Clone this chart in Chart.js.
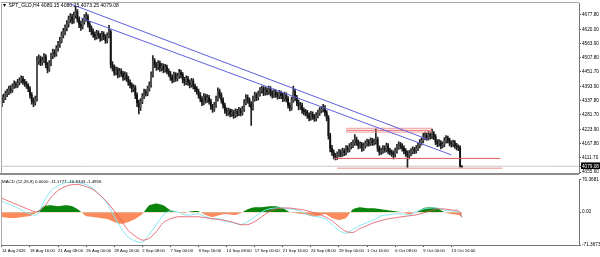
<!DOCTYPE html>
<html><head><meta charset="utf-8">
<script src="https://cdn.jsdelivr.net/npm/chart.js@4.4.1/dist/chart.umd.min.js"></script>
<style>
html,body{margin:0;padding:0;background:#fff;}
#wrap{position:relative;width:600px;height:257px;overflow:hidden;background:#fff;}
canvas{position:absolute;left:0;}
#c1{top:0;}
#c2{top:176px;}
.lbl{position:absolute;font-family:"Liberation Sans",Arial,sans-serif;color:#000;transform:scale(0.5);transform-origin:0 0;white-space:nowrap;}
</style></head><body>
<div id="wrap">
<canvas id="c1" width="600" height="177"></canvas>
<canvas id="c2" width="600" height="81"></canvas>
<div class="lbl" id="t1" style="left:2px;top:2px;font-size:10.2px"></div>
<div class="lbl" id="t2" style="left:2px;top:179px;font-size:8.8px"></div>
</div>
<script>
// ---------- DATA ----------
const symbolLabel = "▼ SPT_GLD,H4 4080.15 4080.25 4073.25 4079.08";
const macdLabel = "MACD (12,26,9) 0.0000 -11.1777 -10.8343 -1.4956";

const opens = [
4348,4340,4352,4365,4372,4385,4380,4395,4402,4398,
4410,4418,4425,4412,4405,4398,4385,4360,4338,4330,
4345,4492,4505,4488,4498,4512,4480,4462,4485,4515,
4530,4522,4545,4560,4575,4598,4610,4625,4640,4660,
4668,4655,4675,4690,4660,4640,4630,4650,4665,4670,
4640,4625,4610,4600,4590,4605,4595,4585,4600,4590,
4575,4595,4610,4480,4470,4450,4460,4440,4455,4445,
4430,4440,4425,4410,4400,4385,4390,4360,4330,4310,
4335,4355,4372,4368,4385,4400,4440,4495,4480,4470,
4485,4465,4475,4460,4470,4455,4445,4430,4420,4440,
4425,4435,4450,4440,4420,4410,4425,4410,4400,4415,
4395,4385,4375,4360,4345,4330,4355,4340,4350,4335,
4315,4305,4320,4345,4375,4360,4340,4320,4300,4290,
4298,4285,4292,4280,4295,4288,4300,4290,4305,4330,
4350,4340,4325,4310,4345,4360,4350,4365,4378,4385,
4370,4380,4372,4385,4368,4360,4372,4362,4355,4368,
4358,4345,4360,4345,4320,4310,4340,4375,4350,4330,
4315,4320,4300,4295,4290,4280,4270,4285,4275,4268,
4280,4290,4300,4305,4310,4290,4270,4200,4150,4135,
4120,4115,4125,4135,4128,4140,4132,4150,4145,4158,
4162,4170,4185,4172,4160,4165,4150,4160,4168,4175,
4170,4180,4172,4175,4185,4150,4135,4140,4150,4145,
4160,4140,4135,4130,4125,4140,4155,4165,4160,4150,
4140,4130,4120,4130,4138,4145,4140,4150,4160,4172,
4180,4195,4200,4192,4205,4198,4208,4195,4175,4168,
4172,4160,4165,4180,4190,4182,4170,4165,4172,4160,
4155,4152,4080.15];
const highs = [
4360,4364,4376,4384,4396,4398,4405,4416,4412,4422,
4428,4436,4434,4422,4414,4406,4394,4370,4349,4356,
4512,4519,4514,4510,4524,4520,4490,4496,4526,4542,
4540,4556,4572,4588,4610,4624,4638,4654,4672,4682,
4679,4688,4710,4698,4669,4652,4662,4678,4686,4678,
4650,4634,4622,4610,4616,4614,4604,4612,4610,4599,
4606,4636,4618,4492,4480,4472,4469,4466,4464,4454,
4452,4449,4434,4420,4409,4402,4398,4369,4340,4346,
4366,4384,4382,4396,4412,4452,4516,4504,4490,4496,
4494,4486,4484,4482,4479,4464,4454,4440,4451,4449,
4446,4462,4459,4449,4430,4436,4434,4420,4426,4424,
4404,4394,4384,4370,4354,4366,4364,4362,4359,4344,
4324,4332,4356,4389,4384,4369,4349,4329,4310,4309,
4306,4304,4300,4306,4304,4312,4309,4316,4342,4362,
4360,4349,4334,4356,4372,4369,4376,4390,4396,4394,
4392,4389,4396,4394,4378,4384,4381,4372,4379,4376,
4367,4372,4369,4354,4330,4352,4396,4384,4359,4340,
4332,4329,4310,4304,4300,4290,4296,4294,4284,4291,
4301,4311,4316,4324,4319,4299,4279,4209,4162,4144,
4130,4136,4146,4144,4151,4149,4161,4160,4169,4174,
4182,4204,4194,4182,4176,4174,4171,4179,4186,4184,
4191,4189,4186,4226,4194,4160,4151,4161,4160,4171,
4169,4150,4144,4140,4151,4166,4176,4174,4169,4160,
4149,4140,4141,4149,4156,4154,4161,4171,4184,4191,
4209,4214,4210,4218,4214,4226,4216,4204,4184,4184,
4180,4176,4192,4200,4198,4190,4179,4182,4180,4170,
4164,4160,4080.25];
const lows = [
4314,4330,4342,4354,4362,4368,4371,4386,4388,4390,
4400,4408,4402,4394,4386,4374,4348,4324,4314,4320,
4336,4481,4476,4478,4488,4468,4448,4454,4476,4504,
4510,4514,4534,4548,4566,4586,4598,4614,4628,4646,
4641,4644,4664,4648,4626,4616,4621,4640,4652,4628,
4611,4598,4588,4578,4581,4584,4572,4576,4579,4564,
4566,4586,4466,4456,4438,4440,4428,4431,4434,4418,
4420,4414,4398,4388,4372,4374,4346,4314,4286,4300,
4326,4346,4356,4358,4376,4391,4431,4468,4458,4461,
4454,4456,4448,4451,4444,4434,4418,4408,4411,4414,
4416,4426,4428,4408,4398,4401,4398,4388,4391,4384,
4374,4364,4348,4334,4318,4321,4328,4331,4324,4304,
4292,4296,4311,4336,4348,4328,4308,4288,4278,4280,
4274,4276,4268,4271,4276,4279,4278,4281,4296,4321,
4328,4314,4240,4301,4336,4338,4341,4356,4368,4358,
4360,4361,4363,4356,4348,4351,4351,4344,4346,4346,
4334,4336,4333,4308,4298,4301,4331,4338,4318,4302,
4304,4288,4282,4278,4268,4258,4261,4264,4256,4258,
4270,4280,4290,4294,4278,4258,4186,4136,4122,4108,
4104,4106,4116,4116,4118,4121,4124,4134,4136,4148,
4152,4161,4161,4148,4150,4138,4141,4150,4158,4158,
4161,4161,4162,4166,4138,4123,4126,4130,4134,4136,
4128,4124,4118,4108,4116,4131,4146,4148,4139,4128,
4118,4072,4108,4120,4128,4129,4131,4141,4151,4162,
4171,4184,4181,4183,4186,4188,4184,4164,4156,4158,
4148,4151,4156,4170,4171,4159,4154,4156,4149,4144,
4141,4074,4073.25];
const closes = [
4340,4352,4365,4372,4385,4380,4395,4402,4398,4410,
4418,4425,4412,4405,4398,4385,4360,4338,4330,4345,
4492,4505,4488,4498,4512,4480,4462,4485,4515,4530,
4522,4545,4560,4575,4598,4610,4625,4640,4660,4668,
4655,4675,4690,4660,4640,4630,4650,4665,4670,4640,
4625,4610,4600,4590,4605,4595,4585,4600,4590,4575,
4595,4610,4480,4470,4450,4460,4440,4455,4445,4430,
4440,4425,4410,4400,4385,4390,4360,4330,4310,4335,
4355,4372,4368,4385,4400,4440,4495,4480,4470,4485,
4465,4475,4460,4470,4455,4445,4430,4420,4440,4425,
4435,4450,4440,4420,4410,4425,4410,4400,4415,4395,
4385,4375,4360,4345,4330,4355,4340,4350,4335,4315,
4305,4320,4345,4375,4360,4340,4320,4300,4290,4298,
4285,4292,4280,4295,4288,4300,4290,4305,4330,4350,
4340,4325,4310,4345,4360,4350,4365,4378,4385,4370,
4380,4372,4385,4368,4360,4372,4362,4355,4368,4358,
4345,4360,4345,4320,4310,4340,4375,4350,4330,4315,
4320,4300,4295,4290,4280,4270,4285,4275,4268,4280,
4290,4300,4305,4310,4290,4270,4200,4150,4135,4120,
4115,4125,4135,4128,4140,4132,4150,4145,4158,4162,
4170,4185,4172,4160,4165,4150,4160,4168,4175,4170,
4180,4172,4175,4185,4150,4135,4140,4150,4145,4160,
4140,4135,4130,4125,4140,4155,4165,4160,4150,4140,
4130,4120,4130,4138,4145,4140,4150,4160,4172,4180,
4195,4200,4192,4205,4198,4208,4195,4175,4168,4172,
4160,4165,4180,4190,4182,4170,4165,4172,4160,4155,
4152,4080,4079.08];

const bidPrice = 4079.08;
const priceTicks = [4677.80,4620.00,4563.90,4507.80,4451.70,4393.90,4337.80,4281.70,4223.90,4167.80,4111.70,4079.08,4055.60];
const priceMin = 4051.7, priceMax = 4720.6;

// trend channel (bar index, price)
const trendUpper = [{x:38,y:4723},{x:243,y:4184}];
const trendLower = [{x:45,y:4665},{x:256,y:4124}];
// horizontal levels: [fromBar, toBar, price]
const levelsPink = [[196,245,4229],[196,245,4221],[196,245,4214]];
const levelMid = [189,284,4110];
const levelLow = [191,285,4071];

// MACD, sampled bars
const macdBars = [0,4,8,12,16,20,24,28,32,36,40,44,48,52,56,60,64,68,72,76,80,84,88,92,96,100,104,108,112,116,120,124,128,132,136,140,144,148,152,156,160,164,168,172,176,180,184,188,192,196,200,204,208,212,216,220,224,228,232,236,240,244,248,252,256,260,262];
const macdMain = [23.8,17.5,11.1,2.7,-3.7,-5.8,23.8,47.1,57.7,64.0,66.1,64.0,59.8,51.3,36.5,19.6,-10.0,-35.4,-54.4,-62.9,-65.0,-48.1,-27.0,-5.8,2.7,0.6,-5.8,-5.8,-3.7,-10.0,-14.3,-14.3,-20.6,-22.7,-27.0,-20.6,-10.0,0.6,6.9,9.0,9.0,6.9,4.8,-1.6,-7.9,-10.0,-14.3,-27.0,-39.6,-46.0,-37.5,-29.1,-22.7,-16.4,-7.9,-5.8,-3.7,-3.7,-5.8,0.6,6.9,9.0,9.0,4.8,2.7,0.6,-11.18];
const macdSignal = [30.2,23.8,17.5,11.1,4.8,0.6,11.1,32.3,47.1,55.6,59.8,59.8,55.6,49.2,36.5,21.7,2.7,-18.5,-39.6,-52.3,-60.8,-56.6,-41.8,-22.7,-14.3,-10.0,-10.0,-10.0,-10.0,-12.1,-14.3,-16.4,-18.5,-22.7,-27.0,-27.0,-20.6,-10.0,0.6,6.9,9.0,9.0,6.9,4.8,0.6,-3.7,-10.0,-18.5,-31.2,-41.8,-43.9,-35.4,-29.1,-22.7,-18.5,-14.3,-12.1,-10.0,-7.9,-5.8,-1.6,2.7,6.9,6.9,4.8,2.7,-10.83];
const macdHist = [-10.6,-12.7,-12.7,-10.6,-8.5,0,12.7,14.8,12.7,14.8,12.7,4.2,-8.5,-10.6,-12.7,-14.8,-21.2,-25.4,-21.2,-14.8,-4.2,14.8,19.0,14.8,4.2,0,-2.1,2.1,2.1,-6.3,-10.6,-6.3,-4.2,-6.3,-2.1,6.3,10.6,10.6,12.7,12.7,8.5,0,-2.1,-4.2,-8.5,-8.5,-4.2,-12.7,-16.9,-12.7,6.3,10.6,8.5,8.5,6.3,4.2,2.1,0,-4.2,0,8.5,10.6,8.5,0,-4.2,-6.3,-10.6];
const macdTicks = [70.3681,0,-71.3673];

const timeTickBars = [0,16,32,48,64,80,96,112,128,144,160,176,192,208,224,240,256];
const timeTickLabels = ["14 Aug 2026","18 Aug 16:00","21 Aug 08:00","26 Aug 00:00","28 Aug 16:00","2 Sep 08:00","7 Sep 00:00","9 Sep 16:00","14 Sep 08:00","17 Sep 00:00","21 Sep 16:00","24 Sep 08:00","29 Sep 00:00","1 Oct 16:00","6 Oct 08:00","9 Oct 00:00","13 Oct 16:00"];

// ---------- RENDER ----------
document.getElementById('t1').textContent = symbolLabel;
document.getElementById('t2').textContent = macdLabel;

Chart.defaults.font.family = '"Liberation Sans", Arial, sans-serif';
Chart.defaults.font.size = 4.7;
Chart.defaults.color = '#000';
const XMIN = -0.5, XMAX = 328.7;
const FS = 4.7, FSX = 4.2;

const framePlugin = {
  id: 'frame',
  afterDraw(chart, args, o) {
    const {ctx, chartArea: a} = chart;
    ctx.save();
    ctx.strokeStyle = o.color || '#a0a0a0';
    ctx.lineWidth = 1;
    ctx.beginPath();
    if (o.top) { ctx.moveTo(a.left, Math.floor(a.top) - 0.5); ctx.lineTo(a.right, Math.floor(a.top) - 0.5); }
    ctx.moveTo(Math.floor(a.left) + 0.5, a.top); ctx.lineTo(Math.floor(a.left) + 0.5, a.bottom);
    ctx.stroke();
    if (o.sep) {
      ctx.fillStyle = o.sepColor;
      ctx.fillRect(0, Math.round(a.bottom), a.right, 2);
    }
    ctx.restore();
  }
};

const idx = closes.map((_, i) => i);
const hline = (seg) => [{x: seg[0], y: seg[2]}, {x: seg[1], y: seg[2]}];
const lineDs = (data, color, w) => ({type: 'line', data, borderColor: color, borderWidth: w, pointRadius: 0, fill: false, tension: 0});

new Chart(document.getElementById('c1'), {
  type: 'bar',
  data: {
    datasets: [
      lineDs(trendUpper, '#5f5fe0', 1),
      lineDs(trendLower, '#5f5fe0', 1),
      lineDs(hline(levelsPink[0]), '#f09a9a', 1),
      lineDs(hline(levelsPink[1]), '#e46a6a', 1),
      lineDs(hline(levelsPink[2]), '#f09a9a', 1),
      lineDs(hline(levelMid), '#dd5c5c', 1),
      lineDs(hline(levelLow), '#f4b0b0', 1.4),
      {type: 'bar', data: idx.map(i => ({x: i, y: [opens[i], closes[i]]})), grouped: false, barThickness: 1.2,
       backgroundColor: c => (closes[c.dataIndex] >= opens[c.dataIndex] ? '#555' : '#111')},
      {type: 'bar', data: idx.map(i => ({x: i, y: [lows[i], highs[i]]})), grouped: false, barThickness: 1, backgroundColor: '#222'},
      lineDs([{x: XMIN, y: bidPrice}, {x: XMAX, y: bidPrice}], '#c8c8c8', 1)
    ]
  },
  options: {
    responsive: false, animation: false, events: [],
    layout: {padding: {left: 1, top: 3, right: 0, bottom: 2}},
    plugins: {legend: {display: false}, tooltip: {enabled: false},
      frame: {top: true, color: '#a8a8a8', sep: true, sepColor: '#8c8c8c'}},
    scales: {
      x: {type: 'linear', display: false, min: XMIN, max: XMAX, offset: false},
      y: {type: 'linear', position: 'right', min: priceMin, max: priceMax,
        afterBuildTicks: s => { s.ticks = priceTicks.map(v => ({value: v})); },
        afterFit: s => { s.width = 21; },
        grid: {drawOnChartArea: false, tickLength: 2, color: '#555'},
        border: {display: true, color: '#777'},
        ticks: {autoSkip: false, padding: 1, font: {size: FS},
          callback: v => Number(v).toFixed(2),
          color: c => (c.tick && c.tick.value === bidPrice ? '#fff' : '#000'),
          showLabelBackdrop: c => (c.tick && c.tick.value === bidPrice),
          backdropColor: '#000', backdropPadding: {top: 1, bottom: 0, left: 1, right: 1}}
      }
    }
  },
  plugins: [framePlugin]
});

const mx = (arr) => macdBars.map((b, k) => ({x: b, y: arr[k]}));
new Chart(document.getElementById('c2'), {
  type: 'line',
  data: {
    datasets: [
      {data: mx(macdSignal), borderColor: '#e0505a', borderWidth: 0.8, pointRadius: 0, fill: false, tension: 0.3},
      {data: mx(macdMain), borderColor: '#86e6f2', borderWidth: 1, pointRadius: 0, fill: false, tension: 0.3},
      {data: mx(macdHist), borderWidth: 0, borderColor: 'rgba(0,0,0,0)', pointRadius: 0, tension: 0.2,
       fill: {target: {value: 0}, above: '#0a840a', below: '#fb8a5c'}}
    ]
  },
  options: {
    responsive: false, animation: false, events: [],
    layout: {padding: {left: 1, top: 2, right: 0, bottom: 0}},
    plugins: {legend: {display: false}, tooltip: {enabled: false}, frame: {top: false, color: '#a8a8a8'}},
    scales: {
      x: {type: 'linear', position: 'bottom', min: XMIN, max: XMAX, offset: false,
        afterBuildTicks: s => { s.ticks = timeTickBars.map(v => ({value: v})); },
        afterFit: s => { s.height = 12; },
        grid: {drawOnChartArea: false, tickLength: 2, color: '#555'},
        border: {display: true, color: '#777'},
        ticks: {autoSkip: false, maxRotation: 0, align: 'start', padding: 1, font: {size: FSX},
          callback: v => timeTickLabels[timeTickBars.indexOf(v)]}
      },
      y: {type: 'linear', position: 'right', min: -71.3673, max: 70.3681,
        afterBuildTicks: s => { s.ticks = macdTicks.map(v => ({value: v})); },
        afterFit: s => { s.width = 21; },
        grid: {drawOnChartArea: false, tickLength: 2, color: '#555'},
        border: {display: true, color: '#777'},
        ticks: {autoSkip: false, padding: 1, font: {size: FS},
          callback: v => (v === 0 ? '0.00' : Number(v).toFixed(4))}
      }
    }
  },
  plugins: [framePlugin]
});
</script>
</body></html>
